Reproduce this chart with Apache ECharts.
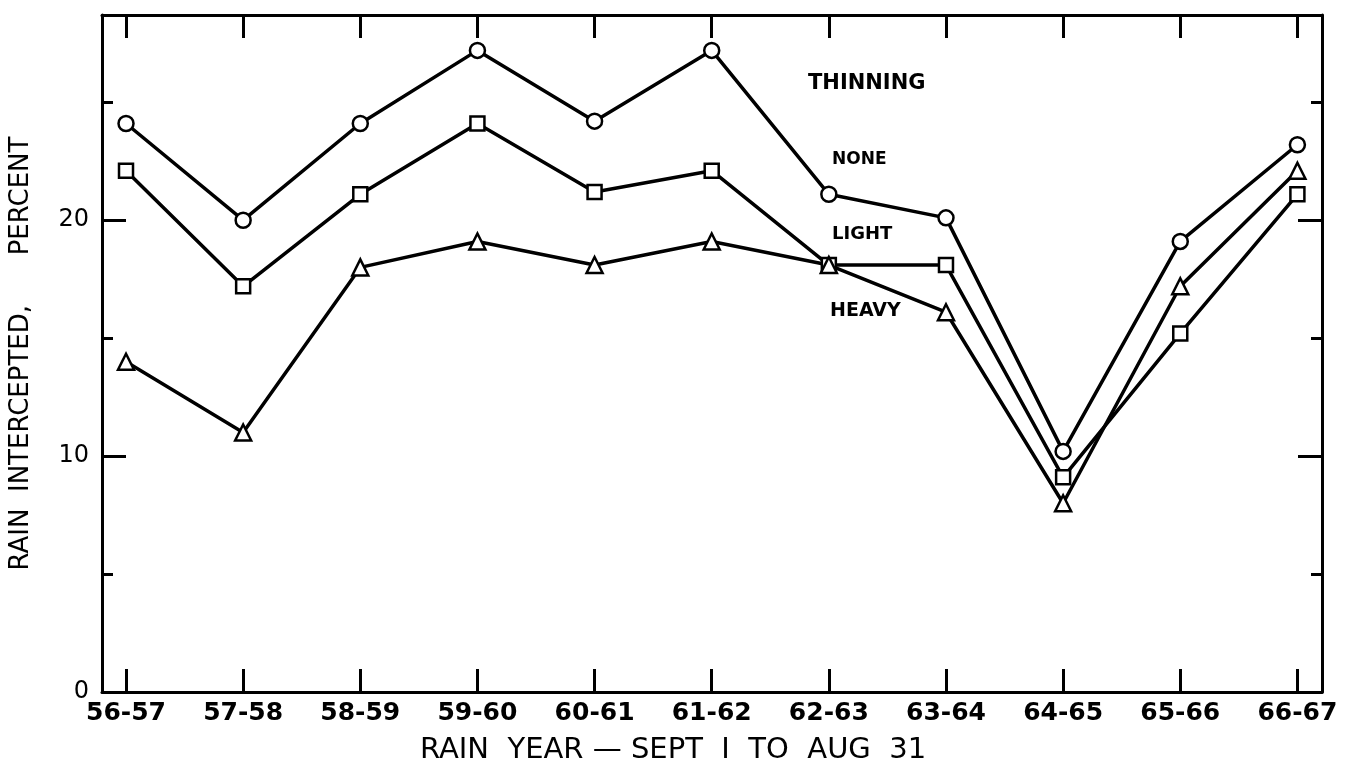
<!DOCTYPE html>
<html>
<head>
<meta charset="utf-8">
<script src="https://cdn.jsdelivr.net/npm/echarts@6/dist/echarts.min.js"></script>
<style>
html,body{margin:0;padding:0;background:#fff;}
#chart{width:1352px;height:781px;}
</style>
</head>
<body>
<div id="chart"></div>
<script>
const categories = ['56-57','57-58','58-59','59-60','60-61','61-62','62-63','63-64','64-65','65-66','66-67'];
const noneThin  = [24.1, 20.0, 24.1, 27.2, 24.2, 27.2, 21.1, 20.1, 10.2, 19.1, 23.2];
const lightThin = [22.1, 17.2, 21.1, 24.1, 21.2, 22.1, 18.1, 18.1, 9.1, 15.2, 21.1];
const heavyThin = [14.0, 11.0, 18.0, 19.1, 18.1, 19.1, 18.1, 16.1, 8.0, 17.2, 22.1];
const majorTicks = [0, 10, 20];
const minorTicks = [5, 15, 25];
const yLabels = ['0', '10', '20'];
const xTitle = 'RAIN  YEAR — SEPT  I  TO  AUG  31';
const yTitle = 'RAIN  INTERCEPTED,      PERCENT';

const FONT = 'DejaVu Sans';
const idx = categories.map((_, i) => i);
const pairs = arr => arr.map((v, i) => [i, v]);

const chart = echarts.init(document.getElementById('chart'));
const lineStyle = {color: '#000', width: 3.5};
const axLine = {show: true, onZero: false, lineStyle: {color: '#000', width: 3}};
const noLine = {show: false, onZero: false};
const xMin = -0.205, xMax = 10.21, yMin = 0, yMax = 28.7;

function mkSeries(name, data, symbol, size) {
  return {
    name, type: 'line', data: pairs(data), symbol, symbolSize: size,
    showAllSymbol: true,
    lineStyle, itemStyle: {color: '#fff', borderColor: '#000', borderWidth: 2.5},
    emphasis: {disabled: true}, animation: false, z: 3
  };
}

chart.setOption({
  animation: false,
  backgroundColor: '#fff',
  grid: {left: 102, right: 30, top: 15, bottom: 89, containLabel: false, outerBoundsMode: 'none'},
  xAxis: [
    {type: 'value', position: 'bottom', min: xMin, max: xMax,
     axisLine: axLine, splitLine: {show: false},
     axisTick: {show: true, inside: true, length: 23, customValues: idx, lineStyle: {color: '#000', width: 3}},
     axisLabel: {customValues: idx, formatter: v => categories[Math.round(v)], color: '#000',
       fontFamily: FONT, fontWeight: 'bold', fontSize: 25, margin: 9}},
    {type: 'value', position: 'top', min: xMin, max: xMax,
     axisLine: axLine, splitLine: {show: false},
     axisTick: {show: true, inside: true, length: 23, customValues: idx, lineStyle: {color: '#000', width: 3}},
     axisLabel: {show: false}}
  ],
  yAxis: [
    {type: 'value', position: 'left', min: yMin, max: yMax,
     axisLine: axLine, splitLine: {show: false},
     axisTick: {show: true, inside: true, length: 24, customValues: majorTicks, lineStyle: {color: '#000', width: 3}},
     axisLabel: {customValues: majorTicks, formatter: v => yLabels[majorTicks.indexOf(v)] || '', color: '#000',
       fontFamily: FONT, fontSize: 24, margin: 13},
     name: yTitle, nameLocation: 'middle', nameGap: 68, nameRotate: 90,
     nameTextStyle: {color: '#000', fontFamily: FONT, fontSize: 26}},
    {type: 'value', position: 'left', min: yMin, max: yMax,
     axisLine: noLine, splitLine: {show: false},
     axisTick: {show: true, inside: true, length: 11, customValues: minorTicks, lineStyle: {color: '#000', width: 3}},
     axisLabel: {show: false}},
    {type: 'value', position: 'right', min: yMin, max: yMax,
     axisLine: axLine, splitLine: {show: false},
     axisTick: {show: true, inside: true, length: 24, customValues: majorTicks, lineStyle: {color: '#000', width: 3}},
     axisLabel: {show: false}},
    {type: 'value', position: 'right', min: yMin, max: yMax,
     axisLine: noLine, splitLine: {show: false},
     axisTick: {show: true, inside: true, length: 11, customValues: minorTicks, lineStyle: {color: '#000', width: 3}},
     axisLabel: {show: false}}
  ],
  series: [
    mkSeries('NONE', noneThin, 'circle', 15),
    mkSeries('LIGHT', lightThin, 'rect', 14),
    mkSeries('HEAVY', heavyThin, 'triangle', 16)
  ],
  graphic: [
    {type: 'text', left: 420, top: 736, style: {text: xTitle, font: '29px "DejaVu Sans"', fill: '#000'}},
    {type: 'text', left: 808, top: 73, style: {text: 'THINNING', font: 'bold 21px "DejaVu Sans"', fill: '#000'}},
    {type: 'text', left: 832, top: 151, style: {text: 'NONE', font: 'bold 17px "DejaVu Sans"', fill: '#000'}},
    {type: 'text', left: 832, top: 225, style: {text: 'LIGHT', font: 'bold 18px "DejaVu Sans"', fill: '#000'}},
    {type: 'text', left: 830, top: 302, style: {text: 'HEAVY', font: 'bold 19px "DejaVu Sans"', fill: '#000'}}
  ]
});
</script>
</body>
</html>
